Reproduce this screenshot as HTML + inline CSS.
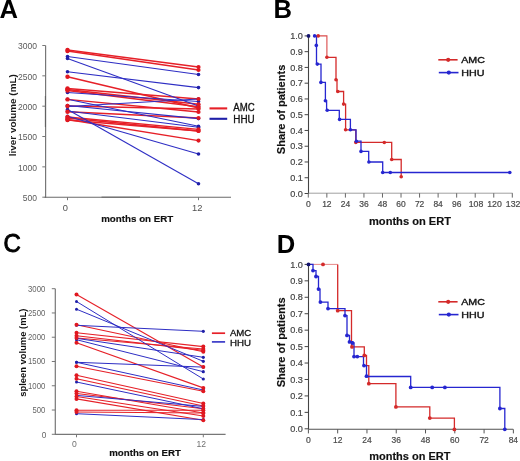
<!DOCTYPE html>
<html><head><meta charset="utf-8"><title>Figure</title>
<style>
html,body{margin:0;padding:0;background:#fff;}
body{width:520px;height:461px;overflow:hidden;}
svg{display:block;filter:blur(0.3px);}
text{font-family:"Liberation Sans", sans-serif;}
</style></head>
<body>
<svg width="520" height="461" viewBox="0 0 520 461">
<rect width="520" height="461" fill="#fff"/>
<text transform="translate(-0.6 17.7) scale(1.0 1)" font-size="25.6" font-weight="bold" fill="#000">A</text>
<text transform="translate(273.6 17.7) scale(1.0 1)" font-size="25.6" font-weight="bold" fill="#000">B</text>
<text transform="translate(3.5 252.3) scale(0.94 1)" font-size="25.6" font-weight="normal" fill="#000" stroke="#000" stroke-width="0.9" stroke-linejoin="round">C</text>
<text transform="translate(276.8 252.9) scale(1.0 1)" font-size="25.6" font-weight="bold" fill="#000">D</text>
<line x1="45.6" y1="45.5" x2="45.6" y2="197.7" stroke="#777" stroke-width="1.2" opacity="1"/>
<line x1="45.4" y1="96" x2="45.4" y2="127" stroke="#555" stroke-width="1.2" opacity="0.6"/>
<line x1="42.3" y1="197.2" x2="45.6" y2="197.2" stroke="#777" stroke-width="1" opacity="1"/>
<text x="36.9" y="201.1" font-size="8.8" text-anchor="end" font-weight="normal" fill="#5a5a5a" textLength="14.2" lengthAdjust="spacingAndGlyphs">500</text>
<line x1="42.3" y1="166.86" x2="45.6" y2="166.86" stroke="#777" stroke-width="1" opacity="1"/>
<text x="36.9" y="170.76000000000002" font-size="8.8" text-anchor="end" font-weight="normal" fill="#5a5a5a" textLength="19" lengthAdjust="spacingAndGlyphs">1000</text>
<line x1="42.3" y1="136.51999999999998" x2="45.6" y2="136.51999999999998" stroke="#777" stroke-width="1" opacity="1"/>
<text x="36.9" y="140.42" font-size="8.8" text-anchor="end" font-weight="normal" fill="#5a5a5a" textLength="19" lengthAdjust="spacingAndGlyphs">1500</text>
<line x1="42.3" y1="106.18" x2="45.6" y2="106.18" stroke="#777" stroke-width="1" opacity="1"/>
<text x="36.9" y="110.08000000000001" font-size="8.8" text-anchor="end" font-weight="normal" fill="#5a5a5a" textLength="19" lengthAdjust="spacingAndGlyphs">2000</text>
<line x1="42.3" y1="75.84" x2="45.6" y2="75.84" stroke="#777" stroke-width="1" opacity="1"/>
<text x="36.9" y="79.74000000000001" font-size="8.8" text-anchor="end" font-weight="normal" fill="#5a5a5a" textLength="19" lengthAdjust="spacingAndGlyphs">2500</text>
<line x1="42.3" y1="45.5" x2="45.6" y2="45.5" stroke="#777" stroke-width="1" opacity="1"/>
<text x="36.9" y="49.4" font-size="8.8" text-anchor="end" font-weight="normal" fill="#5a5a5a" textLength="19" lengthAdjust="spacingAndGlyphs">3000</text>
<line x1="44.6" y1="197.2" x2="231" y2="197.2" stroke="#6a6a6a" stroke-width="1.1" opacity="1"/>
<line x1="101.5" y1="197.2" x2="140" y2="197.2" stroke="#555" stroke-width="1.2" opacity="0.6"/>
<line x1="67.5" y1="197.2" x2="67.5" y2="200.2" stroke="#777" stroke-width="1" opacity="1"/>
<line x1="198.5" y1="197.2" x2="198.5" y2="200.2" stroke="#777" stroke-width="1" opacity="1"/>
<text x="65.4" y="210.8" font-size="9.3" text-anchor="middle" font-weight="normal" fill="#505050">0</text>
<text x="197.2" y="210.8" font-size="9.3" text-anchor="middle" font-weight="normal" fill="#505050">12</text>
<text x="101.2" y="221.7" font-size="9.8" text-anchor="start" font-weight="bold" fill="#111" stroke="#111" stroke-width="0.15" textLength="72.1" lengthAdjust="spacingAndGlyphs">months on ERT</text>
<text x="15.9" y="156.2" font-size="9.7" text-anchor="start" font-weight="bold" fill="#1a1a1a" textLength="82" lengthAdjust="spacingAndGlyphs" transform="rotate(-90 15.9 156.2)">liver volume (mL)</text>
<line x1="67.5" y1="50" x2="198.5" y2="67" stroke="#e62028" stroke-width="1.45" opacity="1"/>
<line x1="67.5" y1="51" x2="198.5" y2="70" stroke="#e62028" stroke-width="1.45" opacity="1"/>
<line x1="67.5" y1="76.8" x2="198.5" y2="108" stroke="#e62028" stroke-width="1.45" opacity="1"/>
<line x1="67.5" y1="88.5" x2="198.5" y2="99" stroke="#e62028" stroke-width="1.45" opacity="1"/>
<line x1="67.5" y1="89.5" x2="198.5" y2="104.3" stroke="#e62028" stroke-width="1.45" opacity="1"/>
<line x1="67.5" y1="90.5" x2="198.5" y2="106.7" stroke="#e62028" stroke-width="1.45" opacity="1"/>
<line x1="67.5" y1="99.4" x2="198.5" y2="112" stroke="#e62028" stroke-width="1.45" opacity="1"/>
<line x1="67.5" y1="106" x2="198.5" y2="109" stroke="#e62028" stroke-width="1.45" opacity="1"/>
<line x1="67.5" y1="111.7" x2="198.5" y2="118" stroke="#e62028" stroke-width="1.45" opacity="1"/>
<line x1="67.5" y1="117" x2="198.5" y2="129.4" stroke="#e62028" stroke-width="1.45" opacity="1"/>
<line x1="67.5" y1="118" x2="198.5" y2="131" stroke="#e62028" stroke-width="1.45" opacity="1"/>
<line x1="67.5" y1="119.5" x2="198.5" y2="140.6" stroke="#e62028" stroke-width="1.45" opacity="1"/>
<line x1="67.5" y1="120" x2="198.5" y2="131" stroke="#e62028" stroke-width="1.45" opacity="1"/>
<line x1="67.5" y1="56.5" x2="198.5" y2="74.5" stroke="#2e2ec4" stroke-width="1.1" opacity="1"/>
<line x1="67.5" y1="58.5" x2="198.5" y2="106" stroke="#2e2ec4" stroke-width="1.1" opacity="1"/>
<line x1="67.5" y1="71.7" x2="198.5" y2="87.6" stroke="#2e2ec4" stroke-width="1.1" opacity="1"/>
<line x1="67.5" y1="92.5" x2="198.5" y2="101.5" stroke="#2e2ec4" stroke-width="1.1" opacity="1"/>
<line x1="67.5" y1="106.5" x2="198.5" y2="99" stroke="#2e2ec4" stroke-width="1.1" opacity="1"/>
<line x1="67.5" y1="105.5" x2="198.5" y2="118.6" stroke="#2e2ec4" stroke-width="1.1" opacity="1"/>
<line x1="67.5" y1="109.5" x2="198.5" y2="183.8" stroke="#2e2ec4" stroke-width="1.1" opacity="1"/>
<line x1="67.5" y1="116.2" x2="198.5" y2="154" stroke="#2e2ec4" stroke-width="1.1" opacity="1"/>
<line x1="67.5" y1="99.2" x2="198.5" y2="126.2" stroke="#2e2ec4" stroke-width="1.1" opacity="1"/>
<line x1="67.5" y1="111.0" x2="198.5" y2="127.2" stroke="#2e2ec4" stroke-width="1.1" opacity="1"/>
<circle cx="67.5" cy="56.5" r="1.8" fill="#1f1fa8"/>
<circle cx="198.5" cy="74.5" r="1.8" fill="#1f1fa8"/>
<circle cx="67.5" cy="58.5" r="1.8" fill="#1f1fa8"/>
<circle cx="198.5" cy="106" r="1.8" fill="#1f1fa8"/>
<circle cx="67.5" cy="71.7" r="1.8" fill="#1f1fa8"/>
<circle cx="198.5" cy="87.6" r="1.8" fill="#1f1fa8"/>
<circle cx="67.5" cy="92.5" r="1.8" fill="#1f1fa8"/>
<circle cx="198.5" cy="101.5" r="1.8" fill="#1f1fa8"/>
<circle cx="67.5" cy="106.5" r="1.8" fill="#1f1fa8"/>
<circle cx="198.5" cy="99" r="1.8" fill="#1f1fa8"/>
<circle cx="67.5" cy="105.5" r="1.8" fill="#1f1fa8"/>
<circle cx="198.5" cy="118.6" r="1.8" fill="#1f1fa8"/>
<circle cx="67.5" cy="109.5" r="1.8" fill="#1f1fa8"/>
<circle cx="198.5" cy="183.8" r="1.8" fill="#1f1fa8"/>
<circle cx="67.5" cy="116.2" r="1.8" fill="#1f1fa8"/>
<circle cx="198.5" cy="154" r="1.8" fill="#1f1fa8"/>
<circle cx="67.5" cy="99.2" r="1.8" fill="#1f1fa8"/>
<circle cx="198.5" cy="126.2" r="1.8" fill="#1f1fa8"/>
<circle cx="67.5" cy="111.0" r="1.8" fill="#1f1fa8"/>
<circle cx="198.5" cy="127.2" r="1.8" fill="#1f1fa8"/>
<circle cx="67.5" cy="50" r="2.2" fill="#e01820"/>
<circle cx="198.5" cy="67" r="2.1" fill="#e01820"/>
<circle cx="67.5" cy="51" r="2.2" fill="#e01820"/>
<circle cx="198.5" cy="70" r="2.1" fill="#e01820"/>
<circle cx="67.5" cy="76.8" r="2.2" fill="#e01820"/>
<circle cx="198.5" cy="108" r="2.1" fill="#e01820"/>
<circle cx="67.5" cy="88.5" r="2.2" fill="#e01820"/>
<circle cx="198.5" cy="99" r="2.1" fill="#e01820"/>
<circle cx="67.5" cy="89.5" r="2.2" fill="#e01820"/>
<circle cx="198.5" cy="104.3" r="2.1" fill="#e01820"/>
<circle cx="67.5" cy="90.5" r="2.2" fill="#e01820"/>
<circle cx="198.5" cy="106.7" r="2.1" fill="#e01820"/>
<circle cx="67.5" cy="99.4" r="2.2" fill="#e01820"/>
<circle cx="198.5" cy="112" r="2.1" fill="#e01820"/>
<circle cx="67.5" cy="106" r="2.2" fill="#e01820"/>
<circle cx="198.5" cy="109" r="2.1" fill="#e01820"/>
<circle cx="67.5" cy="111.7" r="2.2" fill="#e01820"/>
<circle cx="198.5" cy="118" r="2.1" fill="#e01820"/>
<circle cx="67.5" cy="117" r="2.2" fill="#e01820"/>
<circle cx="198.5" cy="129.4" r="2.1" fill="#e01820"/>
<circle cx="67.5" cy="118" r="2.2" fill="#e01820"/>
<circle cx="198.5" cy="131" r="2.1" fill="#e01820"/>
<circle cx="67.5" cy="119.5" r="2.2" fill="#e01820"/>
<circle cx="198.5" cy="140.6" r="2.1" fill="#e01820"/>
<circle cx="67.5" cy="120" r="2.2" fill="#e01820"/>
<circle cx="198.5" cy="131" r="2.1" fill="#e01820"/>
<line x1="209.5" y1="108.4" x2="227.2" y2="108.4" stroke="#e62028" stroke-width="2.1" opacity="1"/>
<line x1="209.5" y1="118.8" x2="227.2" y2="118.8" stroke="#1f1fa8" stroke-width="2.1" opacity="1"/>
<text x="233.3" y="111.4" font-size="10.0" text-anchor="start" font-weight="normal" fill="#111" stroke="#111" stroke-width="0.3" textLength="21.4" lengthAdjust="spacingAndGlyphs">AMC</text>
<text x="233.3" y="123.2" font-size="10.0" text-anchor="start" font-weight="normal" fill="#111" stroke="#111" stroke-width="0.3" textLength="21.4" lengthAdjust="spacingAndGlyphs">HHU</text>
<line x1="308.5" y1="35.900000000000006" x2="308.5" y2="194.0" stroke="#444" stroke-width="1.1" opacity="1"/>
<line x1="304.6" y1="193.5" x2="308.5" y2="193.5" stroke="#444" stroke-width="1" opacity="1"/>
<text x="302.9" y="196.7" font-size="9.5" text-anchor="end" font-weight="normal" fill="#444" stroke="#444" stroke-width="0.2" textLength="12.7" lengthAdjust="spacingAndGlyphs">0.0</text>
<line x1="304.6" y1="177.74" x2="308.5" y2="177.74" stroke="#444" stroke-width="1" opacity="1"/>
<text x="302.9" y="180.94" font-size="9.5" text-anchor="end" font-weight="normal" fill="#444" stroke="#444" stroke-width="0.2" textLength="12.7" lengthAdjust="spacingAndGlyphs">0.1</text>
<line x1="304.6" y1="161.98" x2="308.5" y2="161.98" stroke="#444" stroke-width="1" opacity="1"/>
<text x="302.9" y="165.17999999999998" font-size="9.5" text-anchor="end" font-weight="normal" fill="#444" stroke="#444" stroke-width="0.2" textLength="12.7" lengthAdjust="spacingAndGlyphs">0.2</text>
<line x1="304.6" y1="146.22" x2="308.5" y2="146.22" stroke="#444" stroke-width="1" opacity="1"/>
<text x="302.9" y="149.42" font-size="9.5" text-anchor="end" font-weight="normal" fill="#444" stroke="#444" stroke-width="0.2" textLength="12.7" lengthAdjust="spacingAndGlyphs">0.3</text>
<line x1="304.6" y1="130.46" x2="308.5" y2="130.46" stroke="#444" stroke-width="1" opacity="1"/>
<text x="302.9" y="133.66" font-size="9.5" text-anchor="end" font-weight="normal" fill="#444" stroke="#444" stroke-width="0.2" textLength="12.7" lengthAdjust="spacingAndGlyphs">0.4</text>
<line x1="304.6" y1="114.7" x2="308.5" y2="114.7" stroke="#444" stroke-width="1" opacity="1"/>
<text x="302.9" y="117.9" font-size="9.5" text-anchor="end" font-weight="normal" fill="#444" stroke="#444" stroke-width="0.2" textLength="12.7" lengthAdjust="spacingAndGlyphs">0.5</text>
<line x1="304.6" y1="98.94000000000001" x2="308.5" y2="98.94000000000001" stroke="#444" stroke-width="1" opacity="1"/>
<text x="302.9" y="102.14000000000001" font-size="9.5" text-anchor="end" font-weight="normal" fill="#444" stroke="#444" stroke-width="0.2" textLength="12.7" lengthAdjust="spacingAndGlyphs">0.6</text>
<line x1="304.6" y1="83.18" x2="308.5" y2="83.18" stroke="#444" stroke-width="1" opacity="1"/>
<text x="302.9" y="86.38000000000001" font-size="9.5" text-anchor="end" font-weight="normal" fill="#444" stroke="#444" stroke-width="0.2" textLength="12.7" lengthAdjust="spacingAndGlyphs">0.7</text>
<line x1="304.6" y1="67.42" x2="308.5" y2="67.42" stroke="#444" stroke-width="1" opacity="1"/>
<text x="302.9" y="70.62" font-size="9.5" text-anchor="end" font-weight="normal" fill="#444" stroke="#444" stroke-width="0.2" textLength="12.7" lengthAdjust="spacingAndGlyphs">0.8</text>
<line x1="304.6" y1="51.66" x2="308.5" y2="51.66" stroke="#444" stroke-width="1" opacity="1"/>
<text x="302.9" y="54.86" font-size="9.5" text-anchor="end" font-weight="normal" fill="#444" stroke="#444" stroke-width="0.2" textLength="12.7" lengthAdjust="spacingAndGlyphs">0.9</text>
<line x1="304.6" y1="35.900000000000006" x2="308.5" y2="35.900000000000006" stroke="#444" stroke-width="1" opacity="1"/>
<text x="302.9" y="39.10000000000001" font-size="9.5" text-anchor="end" font-weight="normal" fill="#444" stroke="#444" stroke-width="0.2" textLength="12.7" lengthAdjust="spacingAndGlyphs">1.0</text>
<line x1="308.5" y1="193.2" x2="512.6" y2="193.2" stroke="#a0a0a0" stroke-width="1.0" opacity="1"/>
<line x1="308.3" y1="193.2" x2="308.3" y2="197.6" stroke="#666" stroke-width="1" opacity="1"/>
<text x="308.3" y="207.0" font-size="8.6" text-anchor="middle" font-weight="normal" fill="#4a4a4a" stroke="#4a4a4a" stroke-width="0.2" textLength="4.8" lengthAdjust="spacingAndGlyphs">0</text>
<line x1="326.846" y1="193.2" x2="326.846" y2="197.6" stroke="#666" stroke-width="1" opacity="1"/>
<text x="326.846" y="207.0" font-size="8.6" text-anchor="middle" font-weight="normal" fill="#4a4a4a" stroke="#4a4a4a" stroke-width="0.2" textLength="9.4" lengthAdjust="spacingAndGlyphs">12</text>
<line x1="345.392" y1="193.2" x2="345.392" y2="197.6" stroke="#666" stroke-width="1" opacity="1"/>
<text x="345.392" y="207.0" font-size="8.6" text-anchor="middle" font-weight="normal" fill="#4a4a4a" stroke="#4a4a4a" stroke-width="0.2" textLength="9.4" lengthAdjust="spacingAndGlyphs">24</text>
<line x1="363.938" y1="193.2" x2="363.938" y2="197.6" stroke="#666" stroke-width="1" opacity="1"/>
<text x="363.938" y="207.0" font-size="8.6" text-anchor="middle" font-weight="normal" fill="#4a4a4a" stroke="#4a4a4a" stroke-width="0.2" textLength="9.4" lengthAdjust="spacingAndGlyphs">36</text>
<line x1="382.48400000000004" y1="193.2" x2="382.48400000000004" y2="197.6" stroke="#666" stroke-width="1" opacity="1"/>
<text x="382.48400000000004" y="207.0" font-size="8.6" text-anchor="middle" font-weight="normal" fill="#4a4a4a" stroke="#4a4a4a" stroke-width="0.2" textLength="9.4" lengthAdjust="spacingAndGlyphs">48</text>
<line x1="401.03000000000003" y1="193.2" x2="401.03000000000003" y2="197.6" stroke="#666" stroke-width="1" opacity="1"/>
<text x="401.03000000000003" y="207.0" font-size="8.6" text-anchor="middle" font-weight="normal" fill="#4a4a4a" stroke="#4a4a4a" stroke-width="0.2" textLength="9.4" lengthAdjust="spacingAndGlyphs">60</text>
<line x1="419.576" y1="193.2" x2="419.576" y2="197.6" stroke="#666" stroke-width="1" opacity="1"/>
<text x="419.576" y="207.0" font-size="8.6" text-anchor="middle" font-weight="normal" fill="#4a4a4a" stroke="#4a4a4a" stroke-width="0.2" textLength="9.4" lengthAdjust="spacingAndGlyphs">72</text>
<line x1="438.122" y1="193.2" x2="438.122" y2="197.6" stroke="#666" stroke-width="1" opacity="1"/>
<text x="438.122" y="207.0" font-size="8.6" text-anchor="middle" font-weight="normal" fill="#4a4a4a" stroke="#4a4a4a" stroke-width="0.2" textLength="9.4" lengthAdjust="spacingAndGlyphs">84</text>
<line x1="456.668" y1="193.2" x2="456.668" y2="197.6" stroke="#666" stroke-width="1" opacity="1"/>
<text x="456.668" y="207.0" font-size="8.6" text-anchor="middle" font-weight="normal" fill="#4a4a4a" stroke="#4a4a4a" stroke-width="0.2" textLength="9.4" lengthAdjust="spacingAndGlyphs">96</text>
<line x1="475.21400000000006" y1="193.2" x2="475.21400000000006" y2="197.6" stroke="#666" stroke-width="1" opacity="1"/>
<text x="476.01400000000007" y="207.0" font-size="8.6" text-anchor="middle" font-weight="normal" fill="#4a4a4a" stroke="#4a4a4a" stroke-width="0.2" textLength="14.6" lengthAdjust="spacingAndGlyphs">108</text>
<line x1="493.76" y1="193.2" x2="493.76" y2="197.6" stroke="#666" stroke-width="1" opacity="1"/>
<text x="494.56" y="207.0" font-size="8.6" text-anchor="middle" font-weight="normal" fill="#4a4a4a" stroke="#4a4a4a" stroke-width="0.2" textLength="14.6" lengthAdjust="spacingAndGlyphs">120</text>
<line x1="512.306" y1="193.2" x2="512.306" y2="197.6" stroke="#666" stroke-width="1" opacity="1"/>
<text x="513.106" y="207.0" font-size="8.6" text-anchor="middle" font-weight="normal" fill="#4a4a4a" stroke="#4a4a4a" stroke-width="0.2" textLength="14.6" lengthAdjust="spacingAndGlyphs">132</text>
<text x="369.0" y="225.0" font-size="10" text-anchor="start" font-weight="bold" fill="#111" stroke="#111" stroke-width="0.15" textLength="82" lengthAdjust="spacingAndGlyphs">months on ERT</text>
<text x="285.3" y="154.2" font-size="10.2" text-anchor="start" font-weight="bold" fill="#111" stroke="#111" stroke-width="0.15" textLength="89.5" lengthAdjust="spacingAndGlyphs" transform="rotate(-90 285.3 154.2)">Share of patients</text>
<path d="M318.2 35.9 H326.9 V57.3" fill="none" stroke="#d42a2a" stroke-width="1.1" opacity="0.85"/>
<path d="M326.9 57.3 H336.0 V80 H337 V91.5 H343.6 V104.1 H345.6 V129.8 H355.8 V142.4 H391.7 V159.5 H401.2 V176.7" fill="none" stroke="#d42a2a" stroke-width="1.3" opacity="1"/>
<path d="M314.6 35.9 H316.5 V64.1 H321 V82.4 H325.4 V100.8 H326.6 V110.3 H339.3 V119.4 H350.4 V129.8 H356.0 V141.2 H361 V151.4 H368.7 V162 H382.7 V172.5 H509.8" fill="none" stroke="#2626d0" stroke-width="1.3" opacity="1"/>
<circle cx="318.2" cy="35.9" r="1.8" fill="#d42a2a"/>
<circle cx="326.9" cy="57.3" r="1.8" fill="#d42a2a"/>
<circle cx="336.0" cy="79.8" r="1.8" fill="#d42a2a"/>
<circle cx="337.8" cy="91.5" r="1.8" fill="#d42a2a"/>
<circle cx="343.6" cy="104.1" r="1.8" fill="#d42a2a"/>
<circle cx="345.6" cy="129.8" r="1.8" fill="#d42a2a"/>
<circle cx="355.8" cy="142.4" r="1.8" fill="#d42a2a"/>
<circle cx="384.3" cy="142.5" r="1.8" fill="#d42a2a"/>
<circle cx="391.7" cy="159.5" r="1.8" fill="#d42a2a"/>
<circle cx="401.2" cy="176.7" r="1.8" fill="#d42a2a"/>
<circle cx="308.5" cy="35.9" r="1.9" fill="#141470"/>
<circle cx="314.6" cy="35.9" r="1.8" fill="#2626d0"/>
<circle cx="316.3" cy="45.4" r="1.8" fill="#2626d0"/>
<circle cx="317.3" cy="64.1" r="1.8" fill="#2626d0"/>
<circle cx="320.9" cy="82.4" r="1.8" fill="#2626d0"/>
<circle cx="325.4" cy="100.8" r="1.8" fill="#2626d0"/>
<circle cx="327.2" cy="110.3" r="1.8" fill="#2626d0"/>
<circle cx="339.6" cy="119.4" r="1.8" fill="#2626d0"/>
<circle cx="350.4" cy="129.8" r="1.8" fill="#2626d0"/>
<circle cx="356.4" cy="141.2" r="1.8" fill="#2626d0"/>
<circle cx="361" cy="151.4" r="1.8" fill="#2626d0"/>
<circle cx="368.9" cy="162" r="1.8" fill="#2626d0"/>
<circle cx="382.7" cy="172.5" r="1.8" fill="#2626d0"/>
<circle cx="390.3" cy="172.5" r="1.8" fill="#2626d0"/>
<circle cx="509.8" cy="172.5" r="1.8" fill="#2626d0"/>
<line x1="438.3" y1="59.8" x2="457.6" y2="59.8" stroke="#d42a2a" stroke-width="1.6" opacity="1"/>
<circle cx="448.2" cy="59.8" r="2.1" fill="#d42a2a"/>
<line x1="438.8" y1="72.6" x2="458.5" y2="72.6" stroke="#2626d0" stroke-width="1.6" opacity="1"/>
<circle cx="448.8" cy="72.6" r="2.1" fill="#2626d0"/>
<text x="461.2" y="63.3" font-size="9.9" text-anchor="start" font-weight="normal" fill="#111" stroke="#111" stroke-width="0.4" textLength="23.7" lengthAdjust="spacingAndGlyphs">AMC</text>
<text x="461.2" y="75.8" font-size="9.9" text-anchor="start" font-weight="normal" fill="#111" stroke="#111" stroke-width="0.4" textLength="23.2" lengthAdjust="spacingAndGlyphs">HHU</text>
<line x1="55.3" y1="288.7" x2="55.3" y2="434.78999999999996" stroke="#777" stroke-width="1.2" opacity="1"/>
<line x1="51.8" y1="434.28999999999996" x2="55.3" y2="434.28999999999996" stroke="#777" stroke-width="1" opacity="1"/>
<text x="46.4" y="437.89" font-size="8.8" text-anchor="end" font-weight="normal" fill="#666" textLength="4.6" lengthAdjust="spacingAndGlyphs">0</text>
<line x1="51.8" y1="410.025" x2="55.3" y2="410.025" stroke="#777" stroke-width="1" opacity="1"/>
<text x="45.3" y="413.025" font-size="8.8" text-anchor="end" font-weight="normal" fill="#666" textLength="12.9" lengthAdjust="spacingAndGlyphs">500</text>
<line x1="51.8" y1="385.76" x2="55.3" y2="385.76" stroke="#777" stroke-width="1" opacity="1"/>
<text x="45.3" y="388.76" font-size="8.8" text-anchor="end" font-weight="normal" fill="#666" textLength="17.3" lengthAdjust="spacingAndGlyphs">1000</text>
<line x1="51.8" y1="361.495" x2="55.3" y2="361.495" stroke="#777" stroke-width="1" opacity="1"/>
<text x="45.3" y="364.495" font-size="8.8" text-anchor="end" font-weight="normal" fill="#666" textLength="17.3" lengthAdjust="spacingAndGlyphs">1500</text>
<line x1="51.8" y1="337.22999999999996" x2="55.3" y2="337.22999999999996" stroke="#777" stroke-width="1" opacity="1"/>
<text x="45.3" y="340.22999999999996" font-size="8.8" text-anchor="end" font-weight="normal" fill="#666" textLength="17.3" lengthAdjust="spacingAndGlyphs">2000</text>
<line x1="51.8" y1="312.965" x2="55.3" y2="312.965" stroke="#777" stroke-width="1" opacity="1"/>
<text x="45.3" y="315.965" font-size="8.8" text-anchor="end" font-weight="normal" fill="#666" textLength="17.3" lengthAdjust="spacingAndGlyphs">2500</text>
<line x1="51.8" y1="288.7" x2="55.3" y2="288.7" stroke="#777" stroke-width="1" opacity="1"/>
<text x="45.3" y="291.7" font-size="8.8" text-anchor="end" font-weight="normal" fill="#666" textLength="17.3" lengthAdjust="spacingAndGlyphs">3000</text>
<line x1="55" y1="434.28999999999996" x2="225.6" y2="434.28999999999996" stroke="#777" stroke-width="1.2" opacity="1"/>
<line x1="76.5" y1="434.28999999999996" x2="76.5" y2="437.28999999999996" stroke="#777" stroke-width="1" opacity="1"/>
<line x1="203.3" y1="434.28999999999996" x2="203.3" y2="437.28999999999996" stroke="#777" stroke-width="1" opacity="1"/>
<text x="74.4" y="447.4" font-size="8.6" text-anchor="middle" font-weight="normal" fill="#707070">0</text>
<text x="201.3" y="447.4" font-size="8.6" text-anchor="middle" font-weight="normal" fill="#707070">12</text>
<text x="109.2" y="455.6" font-size="9.8" text-anchor="start" font-weight="bold" fill="#111" stroke="#111" stroke-width="0.15" textLength="71.7" lengthAdjust="spacingAndGlyphs">months on ERT</text>
<text x="26.5" y="396.8" font-size="9.6" text-anchor="start" font-weight="bold" fill="#111" textLength="88.2" lengthAdjust="spacingAndGlyphs" transform="rotate(-90 26.5 396.8)">spleen volume (mL)</text>
<line x1="76.5" y1="294.6" x2="203.3" y2="367" stroke="#e62028" stroke-width="1.15" opacity="1"/>
<line x1="76.5" y1="324.8" x2="203.3" y2="351.8" stroke="#e62028" stroke-width="1.15" opacity="1"/>
<line x1="76.5" y1="332.8" x2="203.3" y2="346.6" stroke="#e62028" stroke-width="1.15" opacity="1"/>
<line x1="76.5" y1="335.7" x2="203.3" y2="350.4" stroke="#e62028" stroke-width="1.15" opacity="1"/>
<line x1="76.5" y1="338" x2="203.3" y2="349" stroke="#e62028" stroke-width="1.15" opacity="1"/>
<line x1="76.5" y1="342.7" x2="203.3" y2="387.9" stroke="#e62028" stroke-width="1.15" opacity="1"/>
<line x1="76.5" y1="366.3" x2="203.3" y2="391.3" stroke="#e62028" stroke-width="1.15" opacity="1"/>
<line x1="76.5" y1="375.2" x2="203.3" y2="403.5" stroke="#e62028" stroke-width="1.15" opacity="1"/>
<line x1="76.5" y1="378.7" x2="203.3" y2="406" stroke="#e62028" stroke-width="1.15" opacity="1"/>
<line x1="76.5" y1="391.3" x2="203.3" y2="413" stroke="#e62028" stroke-width="1.15" opacity="1"/>
<line x1="76.5" y1="398.9" x2="203.3" y2="420.2" stroke="#e62028" stroke-width="1.15" opacity="1"/>
<line x1="76.5" y1="410.2" x2="203.3" y2="410.2" stroke="#e62028" stroke-width="1.15" opacity="1"/>
<line x1="76.5" y1="412" x2="203.3" y2="413" stroke="#e62028" stroke-width="1.15" opacity="1"/>
<line x1="76.5" y1="393.5" x2="203.3" y2="408.8" stroke="#e62028" stroke-width="1.15" opacity="1"/>
<line x1="76.5" y1="396.5" x2="203.3" y2="416" stroke="#e62028" stroke-width="1.15" opacity="1"/>
<line x1="76.5" y1="301.5" x2="203.3" y2="379" stroke="#2e2ec4" stroke-width="1.0" opacity="1"/>
<line x1="76.5" y1="309.2" x2="203.3" y2="361.3" stroke="#2e2ec4" stroke-width="1.0" opacity="1"/>
<line x1="76.5" y1="325.3" x2="203.3" y2="331.3" stroke="#2e2ec4" stroke-width="1.0" opacity="1"/>
<line x1="76.5" y1="338.3" x2="203.3" y2="357.3" stroke="#2e2ec4" stroke-width="1.0" opacity="1"/>
<line x1="76.5" y1="339.7" x2="203.3" y2="371.7" stroke="#2e2ec4" stroke-width="1.0" opacity="1"/>
<line x1="76.5" y1="362.3" x2="203.3" y2="367.1" stroke="#2e2ec4" stroke-width="1.0" opacity="1"/>
<line x1="76.5" y1="362.3" x2="203.3" y2="390" stroke="#2e2ec4" stroke-width="1.0" opacity="1"/>
<line x1="76.5" y1="382" x2="203.3" y2="408.8" stroke="#2e2ec4" stroke-width="1.0" opacity="1"/>
<line x1="76.5" y1="395.4" x2="203.3" y2="406.4" stroke="#2e2ec4" stroke-width="1.0" opacity="1"/>
<line x1="76.5" y1="413.7" x2="203.3" y2="419.6" stroke="#2e2ec4" stroke-width="1.0" opacity="1"/>
<circle cx="76.5" cy="301.5" r="1.5" fill="#1f1fa8"/>
<circle cx="203.3" cy="379" r="1.6" fill="#1f1fa8"/>
<circle cx="76.5" cy="309.2" r="1.5" fill="#1f1fa8"/>
<circle cx="203.3" cy="361.3" r="1.6" fill="#1f1fa8"/>
<circle cx="76.5" cy="325.3" r="1.5" fill="#1f1fa8"/>
<circle cx="203.3" cy="331.3" r="1.6" fill="#1f1fa8"/>
<circle cx="76.5" cy="338.3" r="1.5" fill="#1f1fa8"/>
<circle cx="203.3" cy="357.3" r="1.6" fill="#1f1fa8"/>
<circle cx="76.5" cy="339.7" r="1.5" fill="#1f1fa8"/>
<circle cx="203.3" cy="371.7" r="1.6" fill="#1f1fa8"/>
<circle cx="76.5" cy="362.3" r="1.5" fill="#1f1fa8"/>
<circle cx="203.3" cy="367.1" r="1.6" fill="#1f1fa8"/>
<circle cx="76.5" cy="362.3" r="1.5" fill="#1f1fa8"/>
<circle cx="203.3" cy="390" r="1.6" fill="#1f1fa8"/>
<circle cx="76.5" cy="382" r="1.5" fill="#1f1fa8"/>
<circle cx="203.3" cy="408.8" r="1.6" fill="#1f1fa8"/>
<circle cx="76.5" cy="395.4" r="1.5" fill="#1f1fa8"/>
<circle cx="203.3" cy="406.4" r="1.6" fill="#1f1fa8"/>
<circle cx="76.5" cy="413.7" r="1.5" fill="#1f1fa8"/>
<circle cx="203.3" cy="419.6" r="1.6" fill="#1f1fa8"/>
<circle cx="76.5" cy="294.6" r="2.0" fill="#e01820"/>
<circle cx="203.3" cy="367" r="2.0" fill="#e01820"/>
<circle cx="76.5" cy="324.8" r="2.0" fill="#e01820"/>
<circle cx="203.3" cy="351.8" r="2.0" fill="#e01820"/>
<circle cx="76.5" cy="332.8" r="2.0" fill="#e01820"/>
<circle cx="203.3" cy="346.6" r="2.0" fill="#e01820"/>
<circle cx="76.5" cy="335.7" r="2.0" fill="#e01820"/>
<circle cx="203.3" cy="350.4" r="2.0" fill="#e01820"/>
<circle cx="76.5" cy="338" r="2.0" fill="#e01820"/>
<circle cx="203.3" cy="349" r="2.0" fill="#e01820"/>
<circle cx="76.5" cy="342.7" r="2.0" fill="#e01820"/>
<circle cx="203.3" cy="387.9" r="2.0" fill="#e01820"/>
<circle cx="76.5" cy="366.3" r="2.0" fill="#e01820"/>
<circle cx="203.3" cy="391.3" r="2.0" fill="#e01820"/>
<circle cx="76.5" cy="375.2" r="2.0" fill="#e01820"/>
<circle cx="203.3" cy="403.5" r="2.0" fill="#e01820"/>
<circle cx="76.5" cy="378.7" r="2.0" fill="#e01820"/>
<circle cx="203.3" cy="406" r="2.0" fill="#e01820"/>
<circle cx="76.5" cy="391.3" r="2.0" fill="#e01820"/>
<circle cx="203.3" cy="413" r="2.0" fill="#e01820"/>
<circle cx="76.5" cy="398.9" r="2.0" fill="#e01820"/>
<circle cx="203.3" cy="420.2" r="2.0" fill="#e01820"/>
<circle cx="76.5" cy="410.2" r="2.0" fill="#e01820"/>
<circle cx="203.3" cy="410.2" r="2.0" fill="#e01820"/>
<circle cx="76.5" cy="412" r="2.0" fill="#e01820"/>
<circle cx="203.3" cy="413" r="2.0" fill="#e01820"/>
<circle cx="76.5" cy="393.5" r="2.0" fill="#e01820"/>
<circle cx="203.3" cy="408.8" r="2.0" fill="#e01820"/>
<circle cx="76.5" cy="396.5" r="2.0" fill="#e01820"/>
<circle cx="203.3" cy="416" r="2.0" fill="#e01820"/>
<line x1="211.9" y1="333.2" x2="225.1" y2="333.2" stroke="#e62028" stroke-width="1.7" opacity="1"/>
<line x1="211.9" y1="341.9" x2="225.1" y2="341.9" stroke="#2e2ec4" stroke-width="1.6" opacity="1"/>
<text x="229.9" y="336.1" font-size="9.9" text-anchor="start" font-weight="normal" fill="#111" stroke="#111" stroke-width="0.3" textLength="21.4" lengthAdjust="spacingAndGlyphs">AMC</text>
<text x="229.9" y="346.1" font-size="9.9" text-anchor="start" font-weight="normal" fill="#111" stroke="#111" stroke-width="0.3" textLength="21.0" lengthAdjust="spacingAndGlyphs">HHU</text>
<line x1="308.5" y1="264.4" x2="308.5" y2="429.3" stroke="#444" stroke-width="1.1" opacity="1"/>
<line x1="304.6" y1="428.8" x2="308.5" y2="428.8" stroke="#444" stroke-width="1" opacity="1"/>
<text x="302.9" y="432.0" font-size="9.5" text-anchor="end" font-weight="normal" fill="#444" stroke="#444" stroke-width="0.2" textLength="12.7" lengthAdjust="spacingAndGlyphs">0.0</text>
<line x1="304.6" y1="412.36" x2="308.5" y2="412.36" stroke="#444" stroke-width="1" opacity="1"/>
<text x="302.9" y="415.56" font-size="9.5" text-anchor="end" font-weight="normal" fill="#444" stroke="#444" stroke-width="0.2" textLength="12.7" lengthAdjust="spacingAndGlyphs">0.1</text>
<line x1="304.6" y1="395.92" x2="308.5" y2="395.92" stroke="#444" stroke-width="1" opacity="1"/>
<text x="302.9" y="399.12" font-size="9.5" text-anchor="end" font-weight="normal" fill="#444" stroke="#444" stroke-width="0.2" textLength="12.7" lengthAdjust="spacingAndGlyphs">0.2</text>
<line x1="304.6" y1="379.48" x2="308.5" y2="379.48" stroke="#444" stroke-width="1" opacity="1"/>
<text x="302.9" y="382.68" font-size="9.5" text-anchor="end" font-weight="normal" fill="#444" stroke="#444" stroke-width="0.2" textLength="12.7" lengthAdjust="spacingAndGlyphs">0.3</text>
<line x1="304.6" y1="363.04" x2="308.5" y2="363.04" stroke="#444" stroke-width="1" opacity="1"/>
<text x="302.9" y="366.24" font-size="9.5" text-anchor="end" font-weight="normal" fill="#444" stroke="#444" stroke-width="0.2" textLength="12.7" lengthAdjust="spacingAndGlyphs">0.4</text>
<line x1="304.6" y1="346.6" x2="308.5" y2="346.6" stroke="#444" stroke-width="1" opacity="1"/>
<text x="302.9" y="349.8" font-size="9.5" text-anchor="end" font-weight="normal" fill="#444" stroke="#444" stroke-width="0.2" textLength="12.7" lengthAdjust="spacingAndGlyphs">0.5</text>
<line x1="304.6" y1="330.16" x2="308.5" y2="330.16" stroke="#444" stroke-width="1" opacity="1"/>
<text x="302.9" y="333.36" font-size="9.5" text-anchor="end" font-weight="normal" fill="#444" stroke="#444" stroke-width="0.2" textLength="12.7" lengthAdjust="spacingAndGlyphs">0.6</text>
<line x1="304.6" y1="313.72" x2="308.5" y2="313.72" stroke="#444" stroke-width="1" opacity="1"/>
<text x="302.9" y="316.92" font-size="9.5" text-anchor="end" font-weight="normal" fill="#444" stroke="#444" stroke-width="0.2" textLength="12.7" lengthAdjust="spacingAndGlyphs">0.7</text>
<line x1="304.6" y1="297.28" x2="308.5" y2="297.28" stroke="#444" stroke-width="1" opacity="1"/>
<text x="302.9" y="300.47999999999996" font-size="9.5" text-anchor="end" font-weight="normal" fill="#444" stroke="#444" stroke-width="0.2" textLength="12.7" lengthAdjust="spacingAndGlyphs">0.8</text>
<line x1="304.6" y1="280.84000000000003" x2="308.5" y2="280.84000000000003" stroke="#444" stroke-width="1" opacity="1"/>
<text x="302.9" y="284.04" font-size="9.5" text-anchor="end" font-weight="normal" fill="#444" stroke="#444" stroke-width="0.2" textLength="12.7" lengthAdjust="spacingAndGlyphs">0.9</text>
<line x1="304.6" y1="264.4" x2="308.5" y2="264.4" stroke="#444" stroke-width="1" opacity="1"/>
<text x="302.9" y="267.59999999999997" font-size="9.5" text-anchor="end" font-weight="normal" fill="#444" stroke="#444" stroke-width="0.2" textLength="12.7" lengthAdjust="spacingAndGlyphs">1.0</text>
<line x1="308.5" y1="429.3" x2="513.2" y2="429.3" stroke="#505050" stroke-width="1.1" opacity="1"/>
<line x1="308.4" y1="429.3" x2="308.4" y2="433.4" stroke="#555" stroke-width="1" opacity="1"/>
<text x="308.4" y="443.0" font-size="8.6" text-anchor="middle" font-weight="normal" fill="#4a4a4a" stroke="#4a4a4a" stroke-width="0.2" textLength="4.8" lengthAdjust="spacingAndGlyphs">0</text>
<line x1="337.67999999999995" y1="429.3" x2="337.67999999999995" y2="433.4" stroke="#555" stroke-width="1" opacity="1"/>
<text x="337.67999999999995" y="443.0" font-size="8.6" text-anchor="middle" font-weight="normal" fill="#4a4a4a" stroke="#4a4a4a" stroke-width="0.2" textLength="9.4" lengthAdjust="spacingAndGlyphs">12</text>
<line x1="366.96" y1="429.3" x2="366.96" y2="433.4" stroke="#555" stroke-width="1" opacity="1"/>
<text x="366.96" y="443.0" font-size="8.6" text-anchor="middle" font-weight="normal" fill="#4a4a4a" stroke="#4a4a4a" stroke-width="0.2" textLength="9.4" lengthAdjust="spacingAndGlyphs">24</text>
<line x1="396.24" y1="429.3" x2="396.24" y2="433.4" stroke="#555" stroke-width="1" opacity="1"/>
<text x="396.24" y="443.0" font-size="8.6" text-anchor="middle" font-weight="normal" fill="#4a4a4a" stroke="#4a4a4a" stroke-width="0.2" textLength="9.4" lengthAdjust="spacingAndGlyphs">36</text>
<line x1="425.52" y1="429.3" x2="425.52" y2="433.4" stroke="#555" stroke-width="1" opacity="1"/>
<text x="425.52" y="443.0" font-size="8.6" text-anchor="middle" font-weight="normal" fill="#4a4a4a" stroke="#4a4a4a" stroke-width="0.2" textLength="9.4" lengthAdjust="spacingAndGlyphs">48</text>
<line x1="454.79999999999995" y1="429.3" x2="454.79999999999995" y2="433.4" stroke="#555" stroke-width="1" opacity="1"/>
<text x="454.79999999999995" y="443.0" font-size="8.6" text-anchor="middle" font-weight="normal" fill="#4a4a4a" stroke="#4a4a4a" stroke-width="0.2" textLength="9.4" lengthAdjust="spacingAndGlyphs">60</text>
<line x1="484.08" y1="429.3" x2="484.08" y2="433.4" stroke="#555" stroke-width="1" opacity="1"/>
<text x="484.08" y="443.0" font-size="8.6" text-anchor="middle" font-weight="normal" fill="#4a4a4a" stroke="#4a4a4a" stroke-width="0.2" textLength="9.4" lengthAdjust="spacingAndGlyphs">72</text>
<line x1="513.36" y1="429.3" x2="513.36" y2="433.4" stroke="#555" stroke-width="1" opacity="1"/>
<text x="513.36" y="443.0" font-size="8.6" text-anchor="middle" font-weight="normal" fill="#4a4a4a" stroke="#4a4a4a" stroke-width="0.2" textLength="9.4" lengthAdjust="spacingAndGlyphs">84</text>
<text x="369.2" y="460" font-size="10" text-anchor="start" font-weight="bold" fill="#111" stroke="#111" stroke-width="0.15" textLength="81.2" lengthAdjust="spacingAndGlyphs">months on ERT</text>
<text x="285.3" y="387.3" font-size="10.2" text-anchor="start" font-weight="bold" fill="#111" stroke="#111" stroke-width="0.15" textLength="90" lengthAdjust="spacingAndGlyphs" transform="rotate(-90 285.3 387.3)">Share of patients</text>
<path d="M308.5 264.4 H337.7" fill="none" stroke="#d42a2a" stroke-width="0.8" opacity="0.7"/>
<path d="M337.7 264.4 V310.7 H351.5 V346.9 H364.3 V355.4 H366.5 V365.6 H368.8 V383.7 H395.9 V406.9 H429.8 V418.1 H454.4 V429.4" fill="none" stroke="#d42a2a" stroke-width="1.3" opacity="1"/>
<path d="M308.5 264.4 H313 V270.6 H316 V276.5 H318.5 V289.1 H320 V302.1 H328 V308.6 H345 V315.6 H347 V335.4 H349.5 V341.9 H352.5 V343 H354 V356.6 H363.5 V365.6 H366.5 V376.5 H410.7 V387.4 H499.9 V408.5 H504.8 V429.3" fill="none" stroke="#2626d0" stroke-width="1.3" opacity="1"/>
<circle cx="323" cy="264.4" r="1.9" fill="#d42a2a"/>
<circle cx="337.7" cy="310.7" r="1.9" fill="#d42a2a"/>
<circle cx="352" cy="346.9" r="1.9" fill="#d42a2a"/>
<circle cx="364.3" cy="355.4" r="1.9" fill="#d42a2a"/>
<circle cx="368.8" cy="383.7" r="1.9" fill="#d42a2a"/>
<circle cx="395.9" cy="406.9" r="1.9" fill="#d42a2a"/>
<circle cx="429.8" cy="418.1" r="1.9" fill="#d42a2a"/>
<circle cx="454.4" cy="429.4" r="1.9" fill="#d42a2a"/>
<circle cx="308.5" cy="264.4" r="1.9" fill="#141470"/>
<circle cx="313" cy="270.6" r="1.9" fill="#2626d0"/>
<circle cx="316" cy="276.5" r="1.9" fill="#2626d0"/>
<circle cx="318.5" cy="289.1" r="1.9" fill="#2626d0"/>
<circle cx="320.4" cy="302.1" r="1.9" fill="#2626d0"/>
<circle cx="328" cy="308.6" r="1.9" fill="#2626d0"/>
<circle cx="345" cy="315.6" r="1.9" fill="#2626d0"/>
<circle cx="347" cy="335.4" r="1.9" fill="#2626d0"/>
<circle cx="349.5" cy="341.9" r="1.9" fill="#2626d0"/>
<circle cx="352.5" cy="343" r="1.9" fill="#2626d0"/>
<circle cx="354" cy="356.6" r="1.9" fill="#2626d0"/>
<circle cx="357.3" cy="356.6" r="1.9" fill="#2626d0"/>
<circle cx="364" cy="365.6" r="1.9" fill="#2626d0"/>
<circle cx="366.5" cy="376.2" r="1.9" fill="#2626d0"/>
<circle cx="410.7" cy="387.4" r="1.9" fill="#2626d0"/>
<circle cx="432.2" cy="387.4" r="1.9" fill="#2626d0"/>
<circle cx="444.9" cy="387.4" r="1.9" fill="#2626d0"/>
<circle cx="499.9" cy="408.5" r="1.9" fill="#2626d0"/>
<circle cx="504.8" cy="429.3" r="1.9" fill="#2626d0"/>
<line x1="438.3" y1="301.8" x2="457.6" y2="301.8" stroke="#d42a2a" stroke-width="1.6" opacity="1"/>
<circle cx="448.2" cy="301.8" r="2.1" fill="#d42a2a"/>
<line x1="438.8" y1="314.6" x2="458.5" y2="314.6" stroke="#2626d0" stroke-width="1.6" opacity="1"/>
<circle cx="448.8" cy="314.6" r="2.1" fill="#2626d0"/>
<text x="461.2" y="305.2" font-size="9.9" text-anchor="start" font-weight="normal" fill="#111" stroke="#111" stroke-width="0.4" textLength="23.7" lengthAdjust="spacingAndGlyphs">AMC</text>
<text x="461.2" y="318.3" font-size="9.9" text-anchor="start" font-weight="normal" fill="#111" stroke="#111" stroke-width="0.4" textLength="23.2" lengthAdjust="spacingAndGlyphs">HHU</text>
</svg>
</body></html>
